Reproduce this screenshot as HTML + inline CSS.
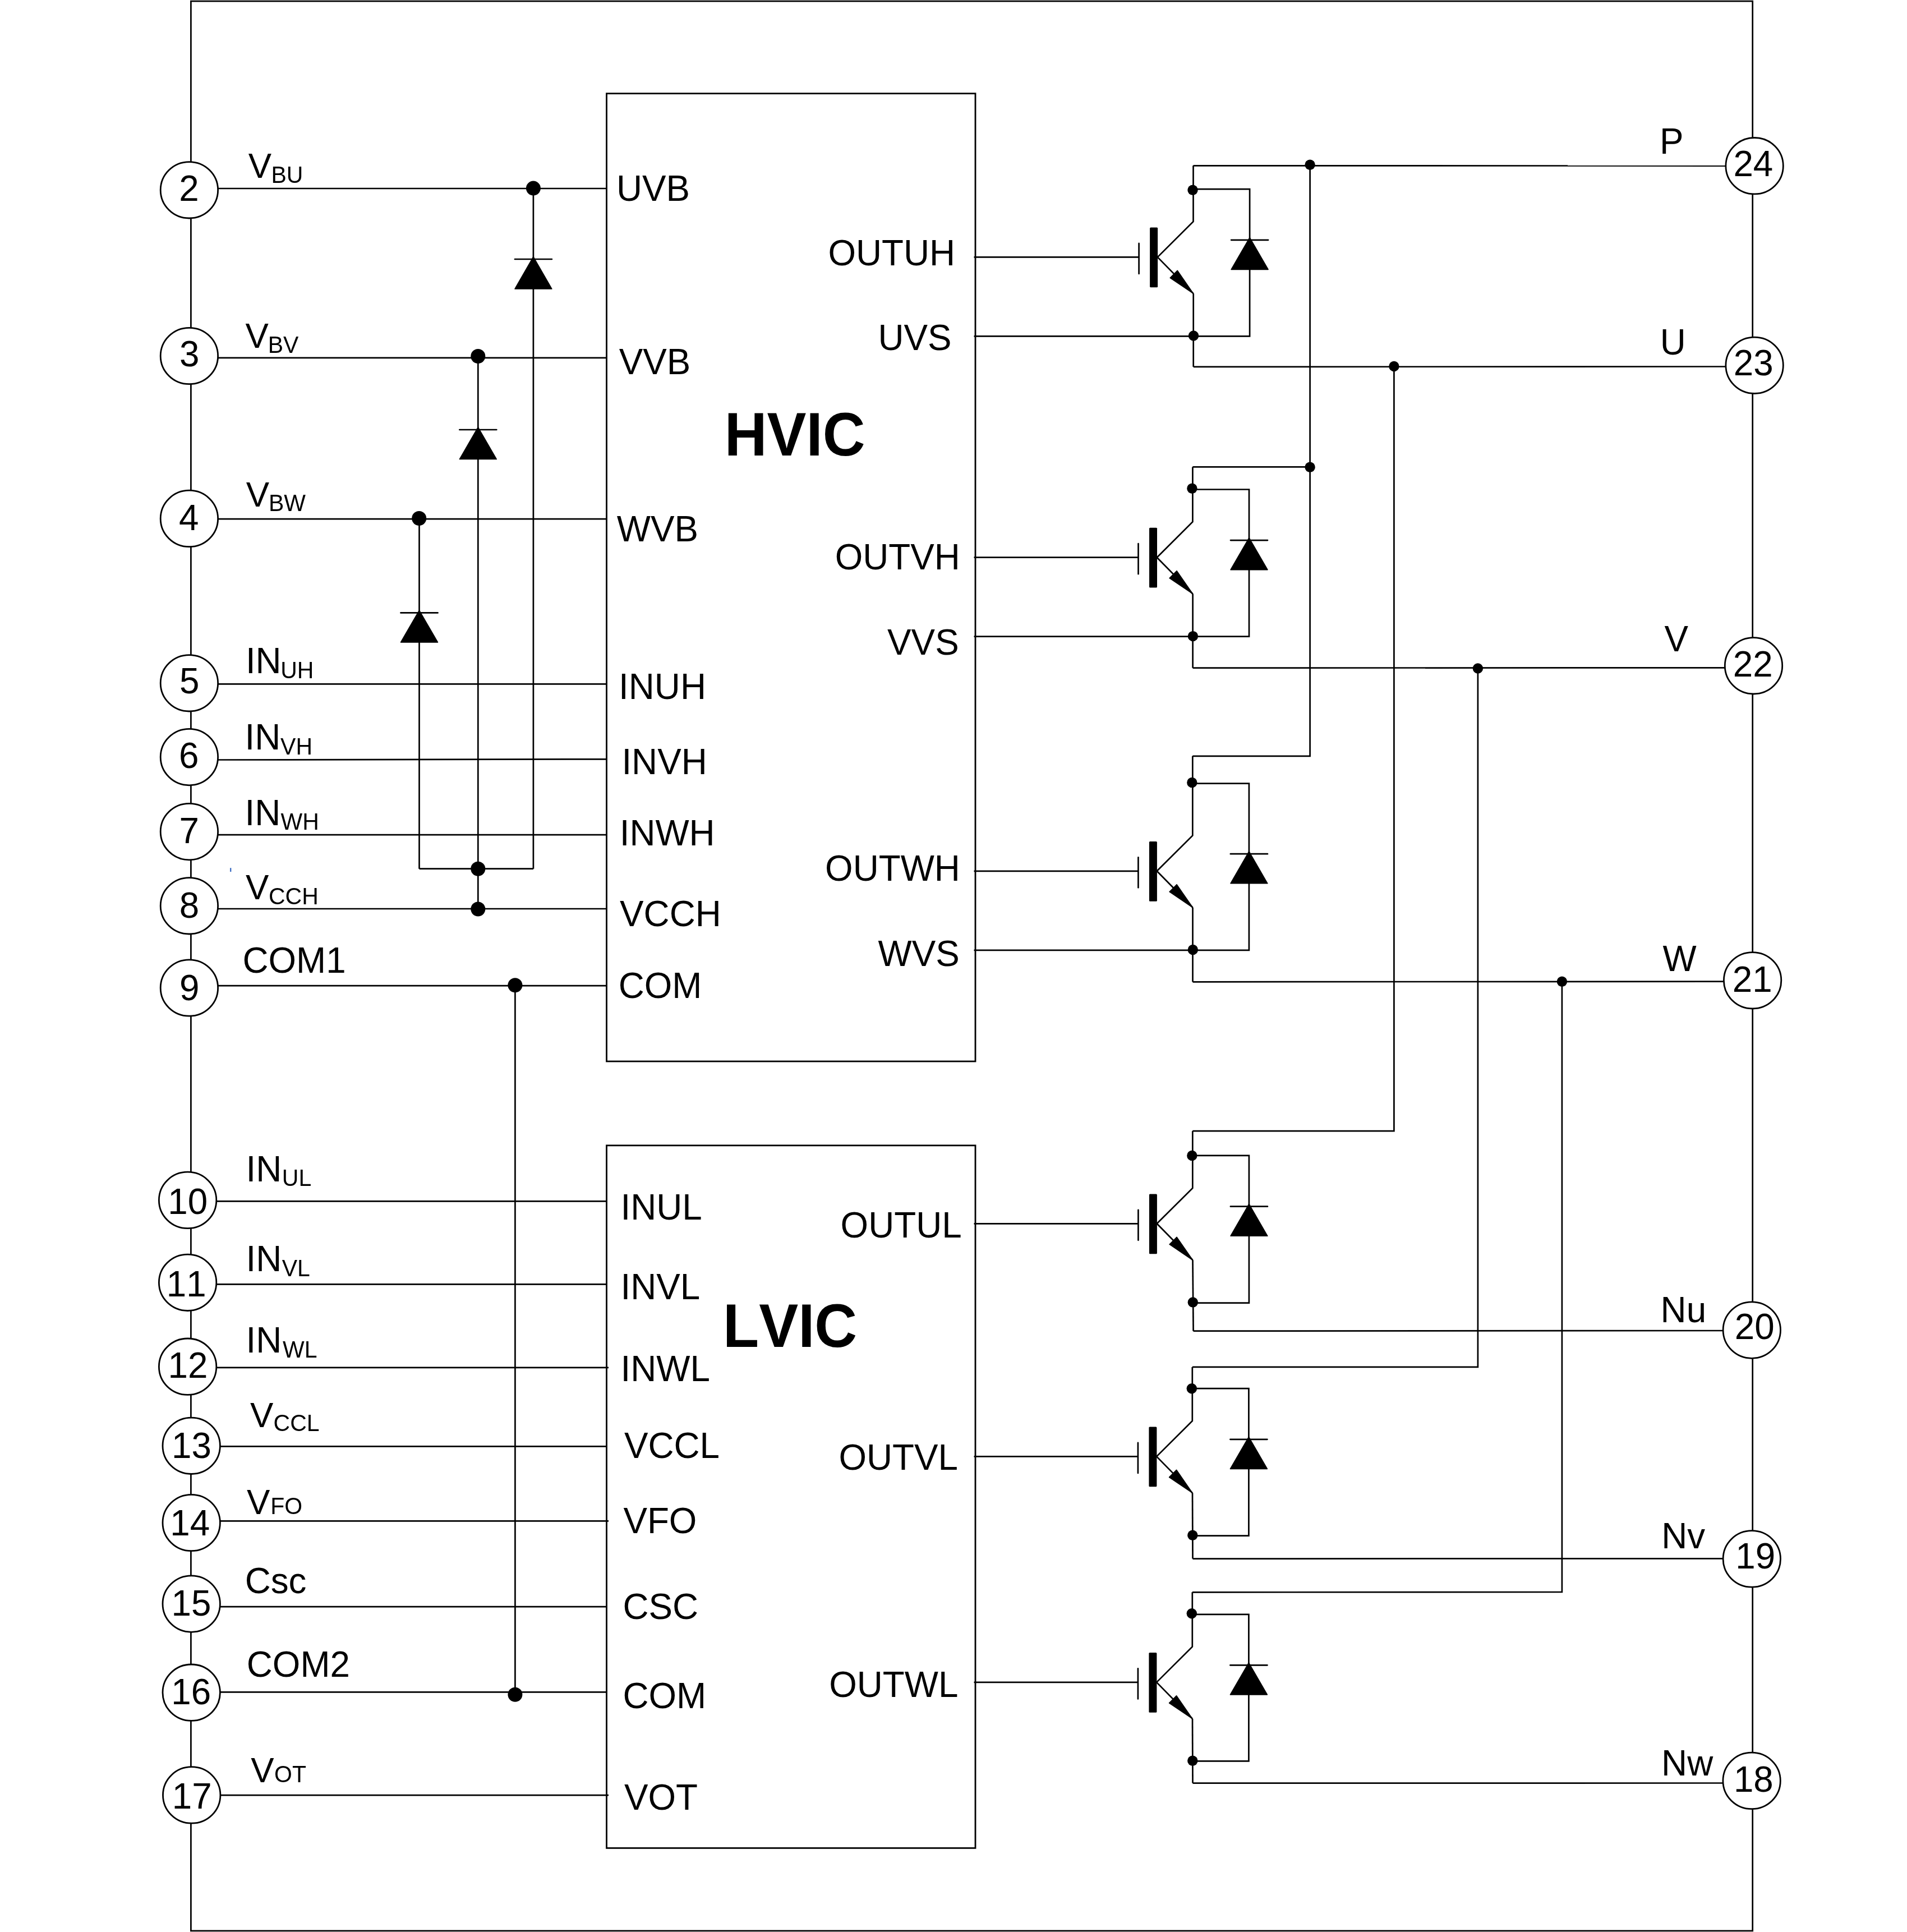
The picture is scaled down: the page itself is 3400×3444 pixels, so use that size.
<!DOCTYPE html>
<html><head><meta charset="utf-8"><title>IPM internal block diagram</title>
<style>
html,body{margin:0;padding:0;background:#fff;}
svg{display:block;}
svg{will-change:transform;}
text{font-family:"Liberation Sans",Arial,Helvetica,sans-serif;fill:#000;stroke:none;font-kerning:none;}
</style></head>
<body>
<svg width="3400" height="3444" viewBox="0 0 3400 3444" stroke="#000" fill="none">
<rect x="0" y="0" width="3400" height="3444" fill="#fff" stroke="none"/>
<rect x="340.4" y="2.1" width="2784.3" height="3439.8" fill="none" stroke-width="2.7"/>
<rect x="1081.5" y="166.7" width="657.5" height="1725.3" fill="none" stroke-width="2.8"/>
<rect x="1081.5" y="2041.9" width="657.5" height="1252.5" fill="none" stroke-width="2.8"/>
<line x1="386.6" y1="336.0" x2="1081.5" y2="336.0" stroke-width="2.7" stroke-linecap="butt"/>
<line x1="386.6" y1="637.8" x2="1081.5" y2="637.8" stroke-width="2.7" stroke-linecap="butt"/>
<line x1="386.6" y1="925.1" x2="1081.5" y2="925.1" stroke-width="2.7" stroke-linecap="butt"/>
<line x1="386.6" y1="1219.3" x2="1081.5" y2="1219.3" stroke-width="2.7" stroke-linecap="butt"/>
<line x1="386.6" y1="1354.5" x2="1081.5" y2="1353.3" stroke-width="2.7" stroke-linecap="butt"/>
<line x1="386.6" y1="1488.1" x2="1081.5" y2="1488.1" stroke-width="2.7" stroke-linecap="butt"/>
<line x1="386.6" y1="1620.0" x2="1081.5" y2="1620.0" stroke-width="2.7" stroke-linecap="butt"/>
<line x1="386.6" y1="1757.2" x2="1081.5" y2="1757.2" stroke-width="2.7" stroke-linecap="butt"/>
<line x1="383.8" y1="2141.3" x2="1081.5" y2="2141.3" stroke-width="2.7" stroke-linecap="butt"/>
<line x1="383.8" y1="2289.4" x2="1081.5" y2="2289.4" stroke-width="2.7" stroke-linecap="butt"/>
<line x1="383.8" y1="2437.8" x2="1085.0" y2="2437.8" stroke-width="2.7" stroke-linecap="butt"/>
<line x1="390.4" y1="2578.3" x2="1081.5" y2="2578.3" stroke-width="2.7" stroke-linecap="butt"/>
<line x1="390.4" y1="2711.4" x2="1085.0" y2="2711.4" stroke-width="2.7" stroke-linecap="butt"/>
<line x1="390.4" y1="2864.2" x2="1081.5" y2="2864.2" stroke-width="2.7" stroke-linecap="butt"/>
<line x1="390.4" y1="3016.3" x2="1081.5" y2="3016.3" stroke-width="2.7" stroke-linecap="butt"/>
<line x1="390.9" y1="3200.2" x2="1085.0" y2="3200.2" stroke-width="2.7" stroke-linecap="butt"/>
<line x1="950.9" y1="335.6" x2="950.9" y2="1548.7" stroke-width="2.7" stroke-linecap="butt"/>
<line x1="852.3" y1="636.0" x2="852.3" y2="1620.5" stroke-width="2.7" stroke-linecap="butt"/>
<line x1="747.5" y1="925.0" x2="747.5" y2="1548.7" stroke-width="2.7" stroke-linecap="butt"/>
<line x1="747.5" y1="1548.7" x2="950.9" y2="1548.7" stroke-width="2.7" stroke-linecap="butt"/>
<circle cx="950.9" cy="335.6" r="13" fill="#000" stroke="none"/>
<circle cx="852.3" cy="635.0" r="13" fill="#000" stroke="none"/>
<circle cx="747.2" cy="924.0" r="13" fill="#000" stroke="none"/>
<circle cx="852.3" cy="1548.7" r="13" fill="#000" stroke="none"/>
<circle cx="852.3" cy="1620.5" r="13" fill="#000" stroke="none"/>
<line x1="917.9" y1="462.0" x2="983.9" y2="462.0" stroke-width="2.7" stroke-linecap="round"/>
<polygon points="950.9,457.5 983.9,515.0 917.9,515.0" fill="#000" stroke="#000" stroke-width="1.5" stroke-linejoin="round"/>
<line x1="819.3" y1="766.0" x2="885.3" y2="766.0" stroke-width="2.7" stroke-linecap="round"/>
<polygon points="852.3,761.5 885.3,818.6 819.3,818.6" fill="#000" stroke="#000" stroke-width="1.5" stroke-linejoin="round"/>
<line x1="714.5" y1="1092.4" x2="780.5" y2="1092.4" stroke-width="2.7" stroke-linecap="round"/>
<polygon points="747.5,1087.9 780.5,1144.9 714.5,1144.9" fill="#000" stroke="#000" stroke-width="1.5" stroke-linejoin="round"/>
<line x1="918.4" y1="1756.5" x2="918.4" y2="3020.0" stroke-width="2.7" stroke-linecap="butt"/>
<circle cx="918.4" cy="1756.3" r="13" fill="#000" stroke="none"/>
<circle cx="918.4" cy="3020.8" r="13" fill="#000" stroke="none"/>
<rect x="410.0" y="1547.2" width="2.4" height="6.8" fill="#4472c4" stroke="none"/>
<line x1="1736.5" y1="458.4" x2="2030.6" y2="458.4" stroke-width="2.7" stroke-linecap="butt"/>
<line x1="2030.6" y1="433.9" x2="2030.6" y2="487.9" stroke-width="2.7" stroke-linecap="round"/>
<rect x="2050.1" y="405.5" width="14" height="106.8" rx="1.5" fill="#000" stroke="none"/>
<polyline points="2063.8,458.4 2127.5,395.0 2127.5,295.2" stroke-width="2.7" fill="none" stroke-linejoin="miter"/>
<polyline points="2063.8,458.4 2127.7,523.4" stroke-width="2.7" fill="none" stroke-linejoin="miter"/>
<polygon points="2127.7,523.4 2099.2,482.3 2086.2,495.3" fill="#000" stroke="#000" stroke-width="1.5" stroke-linejoin="round"/>
<polyline points="2127.7,523.4 2127.7,653.9" stroke-width="2.7" fill="none" stroke-linejoin="miter"/>
<polyline points="2127.5,337.1 2228.1,337.1 2228.1,599.3 2127.7,599.3" stroke-width="2.7" fill="none" stroke-linejoin="miter"/>
<line x1="2195.1" y1="427.8" x2="2261.1" y2="427.8" stroke-width="2.7" stroke-linecap="round"/>
<polygon points="2228.1,423.3 2261.1,480.4 2195.1,480.4" fill="#000" stroke="#000" stroke-width="1.5" stroke-linejoin="round"/>
<circle cx="2126.5" cy="338.8" r="9.2" fill="#000" stroke="none"/>
<circle cx="2128.0" cy="598.5" r="9.2" fill="#000" stroke="none"/>
<line x1="1736.5" y1="599.3" x2="2127.7" y2="599.3" stroke-width="2.7" stroke-linecap="butt"/>
<line x1="1736.5" y1="993.7" x2="2029.5" y2="993.7" stroke-width="2.7" stroke-linecap="butt"/>
<line x1="2029.5" y1="969.2" x2="2029.5" y2="1023.2" stroke-width="2.7" stroke-linecap="round"/>
<rect x="2049.0" y="940.8" width="14" height="106.8" rx="1.5" fill="#000" stroke="none"/>
<polyline points="2062.7,993.7 2126.4,930.3 2126.4,832.4" stroke-width="2.7" fill="none" stroke-linejoin="miter"/>
<polyline points="2062.7,993.7 2126.6,1058.7" stroke-width="2.7" fill="none" stroke-linejoin="miter"/>
<polygon points="2126.6,1058.7 2098.1,1017.6 2085.1,1030.6" fill="#000" stroke="#000" stroke-width="1.5" stroke-linejoin="round"/>
<polyline points="2126.6,1058.7 2126.6,1190.7" stroke-width="2.7" fill="none" stroke-linejoin="miter"/>
<polyline points="2126.4,872.5 2227.0,872.5 2227.0,1134.7 2126.6,1134.7" stroke-width="2.7" fill="none" stroke-linejoin="miter"/>
<line x1="2194.0" y1="963.1" x2="2260.0" y2="963.1" stroke-width="2.7" stroke-linecap="round"/>
<polygon points="2227.0,958.6 2260.0,1015.7 2194.0,1015.7" fill="#000" stroke="#000" stroke-width="1.5" stroke-linejoin="round"/>
<circle cx="2125.4" cy="870.8" r="9.2" fill="#000" stroke="none"/>
<circle cx="2126.9" cy="1134.1" r="9.2" fill="#000" stroke="none"/>
<line x1="1736.5" y1="1134.7" x2="2126.6" y2="1134.7" stroke-width="2.7" stroke-linecap="butt"/>
<line x1="1736.5" y1="1552.8" x2="2029.4" y2="1552.8" stroke-width="2.7" stroke-linecap="butt"/>
<line x1="2029.4" y1="1528.3" x2="2029.4" y2="1582.3" stroke-width="2.7" stroke-linecap="round"/>
<rect x="2048.9" y="1499.9" width="14" height="106.8" rx="1.5" fill="#000" stroke="none"/>
<polyline points="2062.6,1552.8 2126.3,1489.4 2126.3,1347.8" stroke-width="2.7" fill="none" stroke-linejoin="miter"/>
<polyline points="2062.6,1552.8 2126.5,1617.8" stroke-width="2.7" fill="none" stroke-linejoin="miter"/>
<polygon points="2126.5,1617.8 2098.0,1576.7 2085.0,1589.7" fill="#000" stroke="#000" stroke-width="1.5" stroke-linejoin="round"/>
<polyline points="2126.5,1617.8 2126.5,1750.3" stroke-width="2.7" fill="none" stroke-linejoin="miter"/>
<polyline points="2126.3,1396.7 2226.9,1396.7 2226.9,1693.8 2126.5,1693.8" stroke-width="2.7" fill="none" stroke-linejoin="miter"/>
<line x1="2193.9" y1="1522.2" x2="2259.9" y2="1522.2" stroke-width="2.7" stroke-linecap="round"/>
<polygon points="2226.9,1517.7 2259.9,1574.8 2193.9,1574.8" fill="#000" stroke="#000" stroke-width="1.5" stroke-linejoin="round"/>
<circle cx="2125.3" cy="1394.9" r="9.2" fill="#000" stroke="none"/>
<circle cx="2126.8" cy="1692.9" r="9.2" fill="#000" stroke="none"/>
<line x1="1736.5" y1="1693.8" x2="2126.5" y2="1693.8" stroke-width="2.7" stroke-linecap="butt"/>
<line x1="1736.5" y1="2181.3" x2="2029.4" y2="2181.3" stroke-width="2.7" stroke-linecap="butt"/>
<line x1="2029.4" y1="2156.8" x2="2029.4" y2="2210.8" stroke-width="2.7" stroke-linecap="round"/>
<rect x="2048.9" y="2128.4" width="14" height="106.8" rx="1.5" fill="#000" stroke="none"/>
<polyline points="2062.6,2181.3 2126.3,2117.9 2126.3,2016.2" stroke-width="2.7" fill="none" stroke-linejoin="miter"/>
<polyline points="2062.6,2181.3 2126.5,2246.3" stroke-width="2.7" fill="none" stroke-linejoin="miter"/>
<polygon points="2126.5,2246.3 2098.0,2205.2 2085.0,2218.2" fill="#000" stroke="#000" stroke-width="1.5" stroke-linejoin="round"/>
<polyline points="2126.5,2246.3 2127.6,2372.7" stroke-width="2.7" fill="none" stroke-linejoin="miter"/>
<polyline points="2126.3,2059.9 2226.9,2059.9 2226.9,2322.6 2126.5,2322.6" stroke-width="2.7" fill="none" stroke-linejoin="miter"/>
<line x1="2193.9" y1="2150.7" x2="2259.9" y2="2150.7" stroke-width="2.7" stroke-linecap="round"/>
<polygon points="2226.9,2146.2 2259.9,2203.3 2193.9,2203.3" fill="#000" stroke="#000" stroke-width="1.5" stroke-linejoin="round"/>
<circle cx="2125.3" cy="2059.9" r="9.2" fill="#000" stroke="none"/>
<circle cx="2126.8" cy="2321.4" r="9.2" fill="#000" stroke="none"/>
<line x1="1736.5" y1="2596.4" x2="2028.9" y2="2596.4" stroke-width="2.7" stroke-linecap="butt"/>
<line x1="2028.9" y1="2571.9" x2="2028.9" y2="2625.9" stroke-width="2.7" stroke-linecap="round"/>
<rect x="2048.4" y="2543.5" width="14" height="106.8" rx="1.5" fill="#000" stroke="none"/>
<polyline points="2062.1,2596.4 2125.8,2533.0 2125.8,2436.9" stroke-width="2.7" fill="none" stroke-linejoin="miter"/>
<polyline points="2062.1,2596.4 2126.0,2661.4" stroke-width="2.7" fill="none" stroke-linejoin="miter"/>
<polygon points="2126.0,2661.4 2097.5,2620.3 2084.5,2633.3" fill="#000" stroke="#000" stroke-width="1.5" stroke-linejoin="round"/>
<polyline points="2126.0,2661.4 2126.5,2778.6" stroke-width="2.7" fill="none" stroke-linejoin="miter"/>
<polyline points="2125.8,2475.2 2226.4,2475.2 2226.4,2737.6 2126.0,2737.6" stroke-width="2.7" fill="none" stroke-linejoin="miter"/>
<line x1="2193.4" y1="2565.8" x2="2259.4" y2="2565.8" stroke-width="2.7" stroke-linecap="round"/>
<polygon points="2226.4,2561.3 2259.4,2618.4 2193.4,2618.4" fill="#000" stroke="#000" stroke-width="1.5" stroke-linejoin="round"/>
<circle cx="2124.8" cy="2475.2" r="9.2" fill="#000" stroke="none"/>
<circle cx="2126.3" cy="2736.7" r="9.2" fill="#000" stroke="none"/>
<line x1="1736.5" y1="2998.9" x2="2028.9" y2="2998.9" stroke-width="2.7" stroke-linecap="butt"/>
<line x1="2028.9" y1="2974.4" x2="2028.9" y2="3028.4" stroke-width="2.7" stroke-linecap="round"/>
<rect x="2048.4" y="2946.0" width="14" height="106.8" rx="1.5" fill="#000" stroke="none"/>
<polyline points="2062.1,2998.9 2125.8,2935.5 2125.8,2838.3" stroke-width="2.7" fill="none" stroke-linejoin="miter"/>
<polyline points="2062.1,2998.9 2126.0,3063.9" stroke-width="2.7" fill="none" stroke-linejoin="miter"/>
<polygon points="2126.0,3063.9 2097.5,3022.8 2084.5,3035.8" fill="#000" stroke="#000" stroke-width="1.5" stroke-linejoin="round"/>
<polyline points="2126.0,3063.9 2126.5,3178.6" stroke-width="2.7" fill="none" stroke-linejoin="miter"/>
<polyline points="2125.8,2877.9 2226.4,2877.9 2226.4,3139.4 2126.0,3139.4" stroke-width="2.7" fill="none" stroke-linejoin="miter"/>
<line x1="2193.4" y1="2968.3" x2="2259.4" y2="2968.3" stroke-width="2.7" stroke-linecap="round"/>
<polygon points="2226.4,2963.8 2259.4,3020.9 2193.4,3020.9" fill="#000" stroke="#000" stroke-width="1.5" stroke-linejoin="round"/>
<circle cx="2124.8" cy="2876.3" r="9.2" fill="#000" stroke="none"/>
<circle cx="2126.3" cy="3138.7" r="9.2" fill="#000" stroke="none"/>
<line x1="2127.5" y1="295.3" x2="3077.5" y2="295.6" stroke-width="2.7" stroke-linecap="butt"/>
<polyline points="2335.6,293.9 2335.6,1347.8 2126.3,1347.8" stroke-width="2.7" fill="none" stroke-linejoin="miter"/>
<line x1="2126.4" y1="832.4" x2="2335.6" y2="832.4" stroke-width="2.7" stroke-linecap="butt"/>
<circle cx="2335.6" cy="293.8" r="9.2" fill="#000" stroke="none"/>
<circle cx="2335.6" cy="832.7" r="9.2" fill="#000" stroke="none"/>
<line x1="2127.7" y1="653.9" x2="3077.5" y2="653.5" stroke-width="2.7" stroke-linecap="butt"/>
<polyline points="2485.4,653.0 2485.4,2016.2 2126.3,2016.2" stroke-width="2.7" fill="none" stroke-linejoin="miter"/>
<circle cx="2485.4" cy="653.0" r="9.2" fill="#000" stroke="none"/>
<line x1="2126.6" y1="1190.7" x2="3076.0" y2="1190.3" stroke-width="2.7" stroke-linecap="butt"/>
<polyline points="2634.9,1191.0 2634.9,2436.9 2125.8,2436.9" stroke-width="2.7" fill="none" stroke-linejoin="miter"/>
<circle cx="2634.9" cy="1191.5" r="9.2" fill="#000" stroke="none"/>
<line x1="2126.5" y1="1750.3" x2="3074.0" y2="1749.6" stroke-width="2.7" stroke-linecap="butt"/>
<polyline points="2784.9,1750.0 2784.9,2838.0 2125.8,2838.3" stroke-width="2.7" fill="none" stroke-linejoin="miter"/>
<circle cx="2784.9" cy="1749.8" r="9.2" fill="#000" stroke="none"/>
<line x1="2127.6" y1="2372.7" x2="3072.8" y2="2372.0" stroke-width="2.7" stroke-linecap="butt"/>
<line x1="2126.5" y1="2778.6" x2="3072.8" y2="2778.3" stroke-width="2.7" stroke-linecap="butt"/>
<line x1="2126.5" y1="3178.6" x2="3072.6" y2="3178.5" stroke-width="2.7" stroke-linecap="butt"/>
<ellipse cx="337.4" cy="338.8" rx="51.2" ry="50.2" fill="#fff" stroke-width="2.8"/>
<text transform="translate(319.2,358.0) scale(1,1.027)" font-size="63.75">2</text>
<ellipse cx="337.4" cy="634.5" rx="51.2" ry="50.2" fill="#fff" stroke-width="2.8"/>
<text transform="translate(320.0,652.6) scale(1,1.027)" font-size="63.75">3</text>
<ellipse cx="337.4" cy="924.4" rx="51.2" ry="50.2" fill="#fff" stroke-width="2.8"/>
<text transform="translate(318.9,944.5) scale(1,1.027)" font-size="63.75">4</text>
<ellipse cx="337.4" cy="1217.8" rx="51.2" ry="50.2" fill="#fff" stroke-width="2.8"/>
<text transform="translate(320.0,1236.0) scale(1,1.027)" font-size="63.75">5</text>
<ellipse cx="337.4" cy="1349.6" rx="51.2" ry="50.2" fill="#fff" stroke-width="2.8"/>
<text transform="translate(319.0,1369.4) scale(1,1.027)" font-size="63.75">6</text>
<ellipse cx="337.4" cy="1482.6" rx="51.2" ry="50.2" fill="#fff" stroke-width="2.8"/>
<text transform="translate(319.4,1502.5) scale(1,1.027)" font-size="63.75">7</text>
<ellipse cx="337.4" cy="1614.8" rx="51.2" ry="50.2" fill="#fff" stroke-width="2.8"/>
<text transform="translate(319.8,1636.2) scale(1,1.027)" font-size="63.75">8</text>
<ellipse cx="337.4" cy="1761.0" rx="51.2" ry="50.2" fill="#fff" stroke-width="2.8"/>
<text transform="translate(319.9,1782.6) scale(1,1.027)" font-size="63.75">9</text>
<ellipse cx="334.6" cy="2139.4" rx="51.2" ry="50.2" fill="#fff" stroke-width="2.8"/>
<text transform="translate(299.3,2163.6) scale(1,1.027)" font-size="63.75">10</text>
<ellipse cx="334.6" cy="2286.3" rx="51.2" ry="50.2" fill="#fff" stroke-width="2.8"/>
<text transform="translate(296.7,2311.4) scale(1,1.027)" font-size="63.75">11</text>
<ellipse cx="334.6" cy="2436.2" rx="51.2" ry="50.2" fill="#fff" stroke-width="2.8"/>
<text transform="translate(299.6,2455.6) scale(1,1.027)" font-size="63.75">12</text>
<ellipse cx="341.2" cy="2577.3" rx="51.2" ry="50.2" fill="#fff" stroke-width="2.8"/>
<text transform="translate(306.0,2598.6) scale(1,1.027)" font-size="63.75">13</text>
<ellipse cx="341.2" cy="2714.5" rx="51.2" ry="50.2" fill="#fff" stroke-width="2.8"/>
<text transform="translate(303.2,2736.5) scale(1,1.027)" font-size="63.75">14</text>
<ellipse cx="341.2" cy="2859.1" rx="51.2" ry="50.2" fill="#fff" stroke-width="2.8"/>
<text transform="translate(305.6,2880.3) scale(1,1.027)" font-size="63.75">15</text>
<ellipse cx="341.2" cy="3017.2" rx="51.2" ry="50.2" fill="#fff" stroke-width="2.8"/>
<text transform="translate(305.3,3038.2) scale(1,1.027)" font-size="63.75">16</text>
<ellipse cx="341.7" cy="3199.9" rx="51.2" ry="50.2" fill="#fff" stroke-width="2.8"/>
<text transform="translate(306.7,3224.0) scale(1,1.027)" font-size="63.75">17</text>
<ellipse cx="3128.1" cy="295.7" rx="51.2" ry="50.2" fill="#fff" stroke-width="2.8"/>
<text transform="translate(3090.4,314.4) scale(1,1.027)" font-size="63.75">24</text>
<ellipse cx="3128.1" cy="651.3" rx="51.2" ry="50.2" fill="#fff" stroke-width="2.8"/>
<text transform="translate(3090.8,669.1) scale(1,1.027)" font-size="63.75">23</text>
<ellipse cx="3126.5" cy="1186.8" rx="51.2" ry="50.2" fill="#fff" stroke-width="2.8"/>
<text transform="translate(3089.7,1206.1) scale(1,1.027)" font-size="63.75">22</text>
<ellipse cx="3124.6" cy="1747.8" rx="51.2" ry="50.2" fill="#fff" stroke-width="2.8"/>
<text transform="translate(3088.7,1768.3) scale(1,1.027)" font-size="63.75">21</text>
<ellipse cx="3123.3" cy="2371.1" rx="51.2" ry="50.2" fill="#fff" stroke-width="2.8"/>
<text transform="translate(3092.8,2386.6) scale(1,1.027)" font-size="63.75">20</text>
<ellipse cx="3123.3" cy="2778.9" rx="51.2" ry="50.2" fill="#fff" stroke-width="2.8"/>
<text transform="translate(3094.2,2795.7) scale(1,1.027)" font-size="63.75">19</text>
<ellipse cx="3123.1" cy="3174.4" rx="51.2" ry="50.2" fill="#fff" stroke-width="2.8"/>
<text transform="translate(3090.9,3193.8) scale(1,1.027)" font-size="63.75">18</text>
<text transform="translate(442.7,317.4) scale(1,1.027)" font-size="62.0">V<tspan font-size="41.0" dx="-0.6" dy="8.4">BU</tspan></text>
<text transform="translate(437.5,620.2) scale(1,1.027)" font-size="62.0">V<tspan font-size="41.0" dx="-1.1" dy="8.5">BV</tspan></text>
<text transform="translate(438.8,902.9) scale(1,1.027)" font-size="62.0">V<tspan font-size="41.0" dx="-1.1" dy="7.6">BW</tspan></text>
<text transform="translate(437.9,1200.4) scale(1,1.027)" font-size="63.75">IN<tspan font-size="41.0" dx="-1.4" dy="8.2">UH</tspan></text>
<text transform="translate(436.6,1336.0) scale(1,1.027)" font-size="63.75">IN<tspan font-size="41.0" dx="-0.3" dy="8.7">VH</tspan></text>
<text transform="translate(436.6,1471.0) scale(1,1.027)" font-size="63.75">IN<tspan font-size="41.0" dx="0.2" dy="7.7">WH</tspan></text>
<text transform="translate(438.0,1603.4) scale(1,1.027)" font-size="62.0">V<tspan font-size="41.0" dx="-0.4" dy="8.2">CCH</tspan></text>
<text transform="translate(432.5,1734.0) scale(1,1.027)" font-size="63.75">COM1</text>
<text transform="translate(438.5,2105.9) scale(1,1.027)" font-size="63.75">IN<tspan font-size="41.0" dx="0.6" dy="8.2">UL</tspan></text>
<text transform="translate(438.5,2265.5) scale(1,1.027)" font-size="63.75">IN<tspan font-size="41.0" dx="0.4" dy="9.0">VL</tspan></text>
<text transform="translate(438.5,2411.1) scale(1,1.027)" font-size="63.75">IN<tspan font-size="41.0" dx="1.7" dy="8.4">WL</tspan></text>
<text transform="translate(445.9,2544.0) scale(1,1.027)" font-size="62.0">V<tspan font-size="41.0" dx="0.3" dy="7.1">CCL</tspan></text>
<text transform="translate(440.1,2699.0) scale(1,1.027)" font-size="62.0">V<tspan font-size="41.0" dx="0.7" dy="-0.4">FO</tspan></text>
<text transform="translate(436.7,2840.1) scale(1,1.027)" font-size="63.75">Csc</text>
<text transform="translate(439.8,2989.0) scale(1,1.027)" font-size="63.75">COM2</text>
<text transform="translate(447.2,3176.8) scale(1,1.027)" font-size="62.0">V<tspan font-size="41.0" dx="0.5" dy="0.0">OT</tspan></text>
<text transform="translate(1098.9,357.9) scale(1,1.027)" font-size="63.75">UVB</text>
<text transform="translate(1103.7,666.7) scale(1,1.027)" font-size="63.75">VVB</text>
<text transform="translate(1099.8,965.2) scale(1,1.027)" font-size="63.75">WVB</text>
<text transform="translate(1103.1,1245.8) scale(1,1.027)" font-size="63.75">INUH</text>
<text transform="translate(1108.4,1379.8) scale(1,1.027)" font-size="63.75">INVH</text>
<text transform="translate(1104.7,1506.9) scale(1,1.027)" font-size="63.75">INWH</text>
<text transform="translate(1105.1,1650.9) scale(1,1.027)" font-size="63.75">VCCH</text>
<text transform="translate(1102.7,1779.4) scale(1,1.027)" font-size="63.75">COM</text>
<text transform="translate(1476.4,472.7) scale(1,1.027)" font-size="63.75">OUTUH</text>
<text transform="translate(1565.4,624.4) scale(1,1.027)" font-size="63.75">UVS</text>
<text transform="translate(1488.7,1015.4) scale(1,1.027)" font-size="63.75">OUTVH</text>
<text transform="translate(1582.1,1167.4) scale(1,1.027)" font-size="63.75">VVS</text>
<text transform="translate(1471.1,1570.1) scale(1,1.027)" font-size="63.75">OUTWH</text>
<text transform="translate(1565.6,1721.9) scale(1,1.027)" font-size="63.75">WVS</text>
<text transform="translate(1291.7,811.9) scale(1,1.051)" font-size="105" font-weight="bold">HVIC</text>
<text transform="translate(1106.5,2173.9) scale(1,1.027)" font-size="63.75">INUL</text>
<text transform="translate(1106.5,2315.8) scale(1,1.027)" font-size="63.75">INVL</text>
<text transform="translate(1106.5,2461.8) scale(1,1.027)" font-size="63.75">INWL</text>
<text transform="translate(1112.9,2599.1) scale(1,1.027)" font-size="63.75">VCCL</text>
<text transform="translate(1111.4,2732.8) scale(1,1.027)" font-size="63.75">VFO</text>
<text transform="translate(1110.5,2885.9) scale(1,1.027)" font-size="63.75">CSC</text>
<text transform="translate(1110.5,3044.7) scale(1,1.027)" font-size="63.75">COM</text>
<text transform="translate(1112.9,3225.9) scale(1,1.027)" font-size="63.75">VOT</text>
<text transform="translate(1498.6,2206.3) scale(1,1.027)" font-size="63.75">OUTUL</text>
<text transform="translate(1495.4,2619.7) scale(1,1.027)" font-size="63.75">OUTVL</text>
<text transform="translate(1478.2,3024.5) scale(1,1.027)" font-size="63.75">OUTWL</text>
<text transform="translate(1289.0,2401.3) scale(1,1.051)" font-size="105" font-weight="bold">LVIC</text>
<text transform="translate(2959.0,273.8) scale(1,1.027)" font-size="63.75">P</text>
<text transform="translate(2959.8,631.8) scale(1,1.027)" font-size="63.75">U</text>
<text transform="translate(2967.5,1160.8) scale(1,1.027)" font-size="63.75">V</text>
<text transform="translate(2964.4,1730.7) scale(1,1.027)" font-size="63.75">W</text>
<text transform="translate(2960.6,2356.5) scale(1,1.027)" font-size="63.75">Nu</text>
<text transform="translate(2962.2,2760.2) scale(1,1.027)" font-size="63.75">Nv</text>
<text transform="translate(2962.1,3165.2) scale(1,1.027)" font-size="63.75">Nw</text>
</svg>
</body></html>
